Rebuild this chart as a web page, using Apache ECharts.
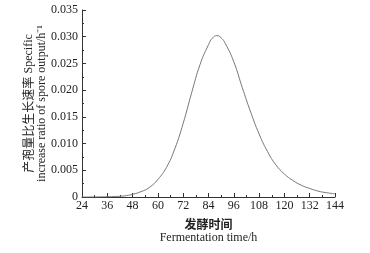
<!DOCTYPE html>
<html>
<head>
<meta charset="utf-8">
<script src="https://cdn.jsdelivr.net/npm/echarts@6/dist/echarts.min.js"></script>
<style>
  html, body { margin: 0; padding: 0; background: #fff; }
  #chart { width: 370px; height: 253px; }
</style>
</head>
<body>
<div id="chart"></div>
<script>
// fermentation time (h)
const hours = [24, 28, 32, 36, 40, 44, 48, 52, 56, 60, 64, 68, 72, 76, 80, 84, 86, 88, 90,
  92, 96, 100, 104, 108, 112, 116, 120, 124, 128, 132, 136, 140, 144];
// specific increase ratio of spore output (1/h)
const rates = [0, 0, 0.00002, 0.00005, 0.0001, 0.0002, 0.0005, 0.0010, 0.0018, 0.0033, 0.0055, 0.0090,
  0.0138, 0.0195, 0.0248, 0.0285, 0.0298, 0.0302, 0.0298,
  0.0287, 0.0253, 0.0205, 0.0159, 0.0118, 0.0085, 0.0060, 0.0043, 0.0031, 0.0022, 0.0016, 0.0011,
  0.0008, 0.0006];

const chart = echarts.init(document.getElementById('chart'));
const serif = 'Liberation Serif';
const axisColor = '#333';

chart.setOption({
  animation: false,
  grid: { left: 82, right: 35, top: 10, bottom: 56 },
  xAxis: {
    type: 'value',
    min: 24,
    max: 144,
    interval: 12,
    axisLine: { lineStyle: { color: axisColor, width: 1 } },
    axisTick: { inside: true, length: 4, lineStyle: { color: axisColor } },
    minorTick: { show: true, splitNumber: 2, length: 2, lineStyle: { color: axisColor } },
    splitLine: { show: false },
    axisLabel: { color: '#222', fontFamily: serif, fontSize: 12, margin: 3 },
    name: '{a|发酵时间}\n{b|Fermentation time/h}',
    nameLocation: 'middle',
    nameGap: 20,
    nameTextStyle: {
      rich: {
        a: { fontFamily: 'Noto Sans CJK SC', fontWeight: 'bold', fontSize: 12, color: '#222', lineHeight: 14 },
        b: { fontFamily: serif, fontSize: 12, color: '#222', lineHeight: 14 }
      }
    }
  },
  yAxis: {
    type: 'value',
    min: 0,
    max: 0.035,
    interval: 0.005,
    axisLine: { show: true, lineStyle: { color: axisColor, width: 1 } },
    axisTick: { show: true, inside: true, length: 4, lineStyle: { color: axisColor } },
    minorTick: { show: true, splitNumber: 2, length: 2, lineStyle: { color: axisColor } },
    splitLine: { show: false },
    axisLabel: {
      color: '#222', fontFamily: serif, fontSize: 12, margin: 4,
      formatter: v => v === 0 ? '0' : v.toFixed(3)
    },
    name: '{a|产孢量比生长速率} {b|Specific}\n{b|increase ratio of spore output/h⁻¹}',
    nameLocation: 'middle',
    nameRotate: 90,
    nameGap: 34,
    nameMoveOverlap: false,
    nameTextStyle: {
      rich: {
        a: { fontFamily: 'Noto Sans CJK SC', fontSize: 12, color: '#222', lineHeight: 13 },
        b: { fontFamily: serif, fontSize: 12, color: '#222', lineHeight: 13 }
      }
    }
  },
  series: [{
    type: 'line',
    data: hours.map((h, i) => [h, rates[i]]),
    smooth: true,
    showSymbol: false,
    lineStyle: { color: '#777', width: 1 }
  }]
});
</script>
</body>
</html>
